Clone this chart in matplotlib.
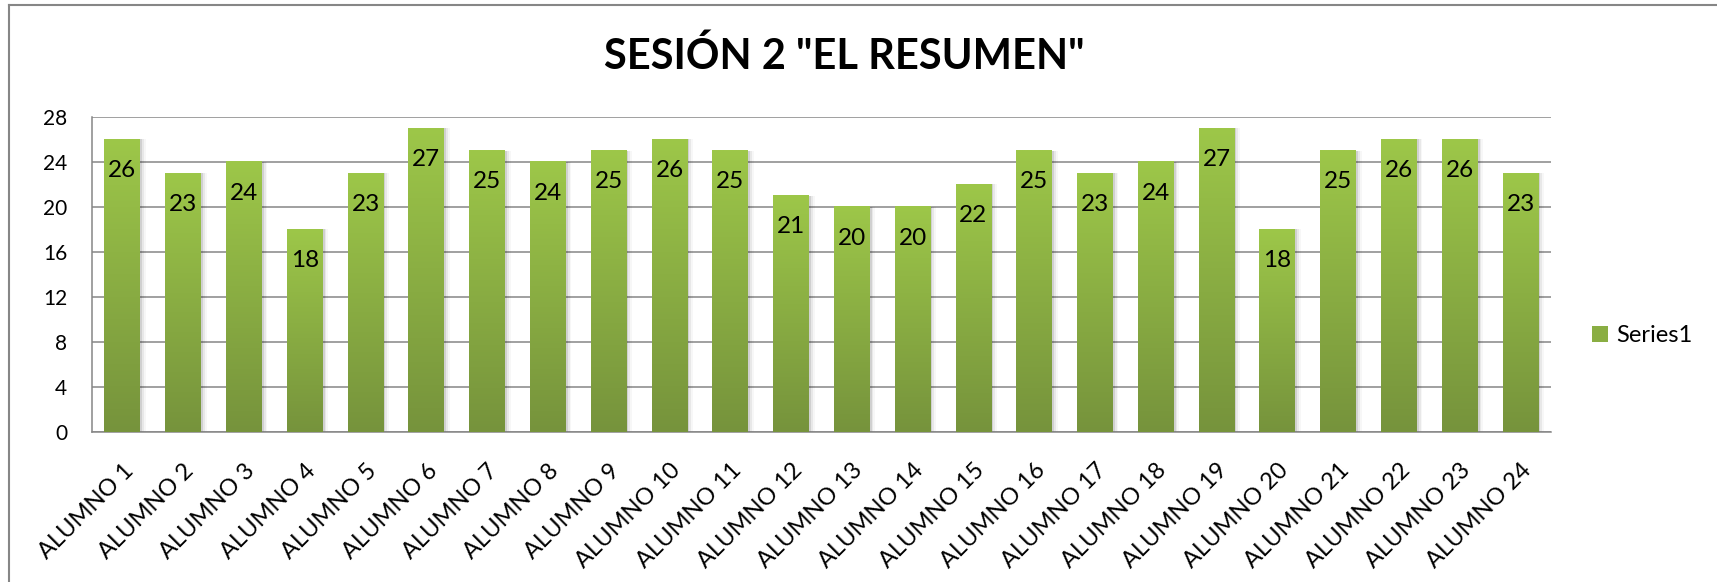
import matplotlib.pyplot as plt
import numpy as np
from matplotlib.colors import LinearSegmentedColormap
from matplotlib.lines import Line2D

# Datos
alumnos = ['ALUMNO %d' % i for i in range(1, 25)]
puntajes = [26, 23, 24, 18, 23, 27, 25, 24, 25, 26, 25, 21,
            20, 20, 22, 25, 23, 24, 27, 18, 25, 26, 26, 23]
y_ticks = [0, 4, 8, 12, 16, 20, 24, 28]
titulo = 'SESIÓN 2 "EL RESUMEN"'
serie = 'Series1'

plt.rcParams['font.family'] = ['Lato', 'DejaVu Sans']

gris = '#868686'
verde_claro = '#9DC749'
verde_oscuro = '#76933C'
degradado = LinearSegmentedColormap.from_list('verde', [verde_oscuro, verde_claro])

fig = plt.figure(figsize=(17.17, 5.82), dpi=100)
ax = fig.add_axes([0.0536, 0.2577, 0.8497, 0.5413])

x = np.arange(len(puntajes))
ancho = 0.59

# sombra suave a la derecha de cada barra
for k, a in enumerate([0.10, 0.06, 0.03]):
    ax.bar(x + 0.03 * (k + 1), puntajes, width=ancho, color='black', alpha=a,
           zorder=2, linewidth=0)

barras = ax.bar(x, puntajes, width=ancho, color='#8AAE43', zorder=3,
                linewidth=0, label=serie)

# degradado vertical dentro de cada barra
grad = np.linspace(0, 1, 256).reshape(-1, 1)
for xi, v in zip(x, puntajes):
    ax.imshow(grad, extent=[xi - ancho / 2, xi + ancho / 2, 0, v], origin='lower',
              cmap=degradado, aspect='auto', zorder=4)

for xi, v in zip(x, puntajes):
    ax.annotate(str(v), (xi, v), xytext=(0, -22.5), textcoords='offset points',
                ha='center', va='center', fontsize=17.5, color='black', zorder=5)

ax.set_xlim(-0.5, len(puntajes) - 0.5)
ax.set_ylim(0, 28)
ax.set_yticks(y_ticks)
ax.set_xticks(x)
ax.set_xticklabels(alumnos, rotation=45, ha='right', rotation_mode='anchor',
                   fontsize=17)
ax.tick_params(axis='y', length=0, pad=18, labelsize=15)
ax.tick_params(axis='x', length=0, pad=20)

ax.yaxis.grid(True, color=gris, linewidth=1.1, zorder=1)
ax.set_axisbelow(True)
for lado in ['top', 'right']:
    ax.spines[lado].set_visible(False)
for lado in ['left', 'bottom']:
    ax.spines[lado].set_color(gris)
    ax.spines[lado].set_linewidth(1.1)

fig.text(0.4916, 0.904, titulo, ha='center', va='center', fontsize=30,
         fontweight='bold')

fig.legend(handles=[barras], labels=[serie], loc='center left',
           bbox_to_anchor=(0.927, 0.4227), frameon=False, fontsize=17,
           borderpad=0, borderaxespad=0, handlelength=0.68, handleheight=0.68,
           handletextpad=0.35)

# borde del area del grafico
fig.add_artist(Line2D([9 / 1717, 1], [1 - 5 / 582, 1 - 5 / 582], color=gris,
                      linewidth=1.5, transform=fig.transFigure))
fig.add_artist(Line2D([9 / 1717, 9 / 1717], [0, 1 - 5 / 582], color=gris,
                      linewidth=1.5, transform=fig.transFigure))

plt.savefig('out.png', dpi=100)
